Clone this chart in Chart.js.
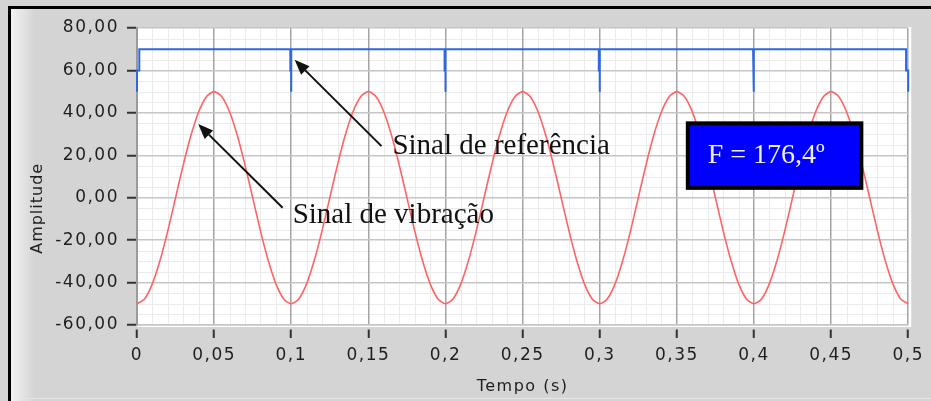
<!DOCTYPE html>
<html>
<head>
<meta charset="utf-8">
<script src="https://cdn.jsdelivr.net/npm/chart.js@4"></script>
<style>
  html, body { margin: 0; padding: 0; background: #d4d4d4; }
  canvas { display: block; }
</style>
</head>
<body>
<canvas id="phase-chart" width="931" height="401"></canvas>
<script>
// valores
const vibTime = [0, 0.005, 0.01, 0.015, 0.02, 0.025, 0.03, 0.035, 0.04, 0.045,
  0.05, 0.055, 0.06, 0.065, 0.07, 0.075, 0.08, 0.085, 0.09, 0.095,
  0.1, 0.105, 0.11, 0.115, 0.12, 0.125, 0.13, 0.135, 0.14, 0.145,
  0.15, 0.155, 0.16, 0.165, 0.17, 0.175, 0.18, 0.185, 0.19, 0.195,
  0.2, 0.205, 0.21, 0.215, 0.22, 0.225, 0.23, 0.235, 0.24, 0.245,
  0.25, 0.255, 0.26, 0.265, 0.27, 0.275, 0.28, 0.285, 0.29, 0.295,
  0.3, 0.305, 0.31, 0.315, 0.32, 0.325, 0.33, 0.335, 0.34, 0.345,
  0.35, 0.355, 0.36, 0.365, 0.37, 0.375, 0.38, 0.385, 0.39, 0.395,
  0.4, 0.405, 0.41, 0.415, 0.42, 0.425, 0.43, 0.435, 0.44, 0.445,
  0.45, 0.455, 0.46, 0.465, 0.47, 0.475, 0.48, 0.485, 0.49, 0.495, 0.5];
const vibAmp = [-50, -47.6, -40.5, -29.4, -15.5, 0, 15.5, 29.4, 40.5, 47.6,
  50, 47.6, 40.5, 29.4, 15.5, 0, -15.5, -29.4, -40.5, -47.6,
  -50, -47.6, -40.5, -29.4, -15.5, 0, 15.5, 29.4, 40.5, 47.6,
  50, 47.6, 40.5, 29.4, 15.5, 0, -15.5, -29.4, -40.5, -47.6,
  -50, -47.6, -40.5, -29.4, -15.5, 0, 15.5, 29.4, 40.5, 47.6,
  50, 47.6, 40.5, 29.4, 15.5, 0, -15.5, -29.4, -40.5, -47.6,
  -50, -47.6, -40.5, -29.4, -15.5, 0, 15.5, 29.4, 40.5, 47.6,
  50, 47.6, 40.5, 29.4, 15.5, 0, -15.5, -29.4, -40.5, -47.6,
  -50, -47.6, -40.5, -29.4, -15.5, 0, 15.5, 29.4, 40.5, 47.6,
  50, 47.6, 40.5, 29.4, 15.5, 0, -15.5, -29.4, -40.5, -47.6, -50];

const refTime = [0, 0, 0.0015, 0.0015,
  0.0994, 0.0994, 0.1, 0.1, 0.1,
  0.1994, 0.1994, 0.2, 0.2, 0.2,
  0.2994, 0.2994, 0.3, 0.3, 0.3,
  0.3994, 0.3994, 0.4, 0.4, 0.4,
  0.4986, 0.4986, 0.5, 0.5];
const refAmp = [50, 60, 60, 70,
  70, 60, 60, 50, 70,
  70, 60, 60, 50, 70,
  70, 60, 60, 50, 70,
  70, 60, 60, 50, 70,
  70, 60, 60, 50];

const xTicks = [0, 0.05, 0.1, 0.15, 0.2, 0.25, 0.3, 0.35, 0.4, 0.45, 0.5];
const yTicks = [-60, -40, -20, 0, 20, 40, 60, 80];

const noteLabels = ["Sinal de referência", "Sinal de vibração"];
const phaseLabel = "F = 176,4º";

// posições das anotações em coordenadas do gráfico
const notes = [
  { text: noteLabels[0], at: [0.1656, 20.5], from: [0.1585, 24.3], to: [0.1022, 65.0] },
  { text: noteLabels[1], at: [0.1009, -11.8], from: [0.0944, -4.75], to: [0.0397, 34.7] },
];
const badge = { text: phaseLabel, x0: 0.3558, x1: 0.4709, y0: 36.0, y1: 3.7, at: [0.37, 16.3] };

const toPoints = (xs, ys) => xs.map((x, i) => ({ x: x, y: ys[i] }));
const fmtComma = (v, d) => v.toFixed(d).replace(".", ",");

const panelPlugin = {
  id: "panel",
  beforeUpdate(chart) {
    chart.ctx.letterSpacing = "1.5px";
  },
  beforeDraw(chart) {
    const ctx = chart.ctx;
    const { left, right, top, bottom } = chart.chartArea;
    const xs = chart.scales.x;
    const ys = chart.scales.y;
    ctx.save();
    ctx.fillStyle = "#d4d4d4";
    ctx.fillRect(0, 0, chart.width, chart.height);
    const grad = ctx.createLinearGradient(11, 0, 34, 0);
    grad.addColorStop(0, "#f2f2f2");
    grad.addColorStop(1, "#d6d6d6");
    ctx.fillStyle = grad;
    ctx.fillRect(11, 9, 23, chart.height);
    ctx.fillStyle = "#000";
    ctx.fillRect(8, 6, chart.width, 3);
    ctx.fillRect(8, 6, 3, chart.height);
    ctx.fillStyle = "#e6e6e6";
    ctx.fillRect(27, 398, chart.width, 1);

    ctx.fillStyle = "#fff";
    ctx.fillRect(left, top - 1, right - left + 3, bottom - top + 3);

    // grade secundária
    ctx.strokeStyle = "#ebebeb";
    ctx.lineWidth = 1;
    ctx.beginPath();
    for (let i = 1; i < 50; i++) {
      if (i % 5 === 0) continue;
      const px = Math.round(xs.getPixelForValue(i / 100)) + 0.5;
      ctx.moveTo(px, top);
      ctx.lineTo(px, bottom);
    }
    for (let v = -55; v < 80; v += 5) {
      if (v % 20 === 0) continue;
      const py = Math.round(ys.getPixelForValue(v)) + 0.5;
      ctx.moveTo(left, py);
      ctx.lineTo(right, py);
    }
    ctx.stroke();
    ctx.restore();
    ctx.letterSpacing = "1.5px";
  },
  afterDraw(chart) {
    const ctx = chart.ctx;
    const xs = chart.scales.x;
    const ys = chart.scales.y;
    const px = (v) => xs.getPixelForValue(v);
    const py = (v) => ys.getPixelForValue(v);
    ctx.save();
    ctx.letterSpacing = "0px";

    notes.forEach((n) => {
      const tx = px(n.from[0]), ty = py(n.from[1]);
      const hx = px(n.to[0]), hy = py(n.to[1]);
      const ang = Math.atan2(hy - ty, hx - tx);
      const headLen = 15, headW = 6;
      const bx = hx - Math.cos(ang) * headLen;
      const by = hy - Math.sin(ang) * headLen;
      ctx.strokeStyle = "#111";
      ctx.lineWidth = 2;
      ctx.beginPath();
      ctx.moveTo(tx, ty);
      ctx.lineTo(bx, by);
      ctx.stroke();
      ctx.fillStyle = "#111";
      ctx.beginPath();
      ctx.moveTo(hx, hy);
      ctx.lineTo(bx + Math.sin(ang) * headW, by - Math.cos(ang) * headW);
      ctx.lineTo(bx - Math.sin(ang) * headW, by + Math.cos(ang) * headW);
      ctx.closePath();
      ctx.fill();

      ctx.font = "29px 'Liberation Serif', serif";
      ctx.textBaseline = "alphabetic";
      ctx.textAlign = "left";
      ctx.fillText(n.text, px(n.at[0]), py(n.at[1]));
    });

    const bx0 = px(badge.x0), bx1 = px(badge.x1);
    const by0 = py(badge.y0), by1 = py(badge.y1);
    ctx.fillStyle = "#000";
    ctx.fillRect(bx0, by0, bx1 - bx0, by1 - by0);
    ctx.fillStyle = "#0000ff";
    ctx.fillRect(bx0 + 4, by0 + 4, bx1 - bx0 - 8, by1 - by0 - 8);
    ctx.fillStyle = "#eef0ff";
    ctx.font = "28px 'Liberation Serif', serif";
    ctx.fillText(badge.text, px(badge.at[0]), py(badge.at[1]));
    ctx.restore();
  },
};

Chart.defaults.font.family = "'DejaVu Sans', sans-serif";
Chart.defaults.font.size = 17;
Chart.defaults.color = "#1f1f1f";

const phaseChart = document.getElementById("phase-chart");
const phaseChartInstance = new Chart(phaseChart, {
  type: "scatter",
  data: {
    datasets: [
      {
        label: "Sinal de referência",
        data: toPoints(refTime, refAmp),
        showLine: true,
        borderColor: "#2d68e2",
        borderWidth: 2,
        pointRadius: 0,
        tension: 0,
        clip: 4,
      },
      {
        label: "Sinal de vibração",
        data: toPoints(vibTime, vibAmp),
        showLine: true,
        borderColor: "#ff6464",
        borderWidth: 1.6,
        pointRadius: 0,
        tension: 0.25,
        clip: 4,
      },
    ],
  },
  options: {
    responsive: false,
    animation: false,
    devicePixelRatio: 1,
    layout: {
      padding: { top: 28, right: 21, bottom: 0, left: 0 },
    },
    plugins: {
      legend: { display: false },
      tooltip: { enabled: false },
    },
    scales: {
      x: {
        type: "linear",
        min: 0,
        max: 0.5,
        afterFit: (s) => { s.height = 76; },
        afterBuildTicks: (s) => { s.ticks = xTicks.map((v) => ({ value: v })); },
        ticks: {
          padding: 7,
          maxRotation: 0,
          autoSkip: false,
          callback: (v) => String(Number(v.toFixed(2))).replace(".", ","),
        },
        grid: {
          color: "#a4a4a4",
          lineWidth: 1.5,
          tickLength: 13,
          tickColor: "#333",
          tickWidth: 2,
          tickBorderDash: [0, 4, 9, 60],
        },
        border: { color: "#c4c4c4", width: 1.5 },
        title: {
          display: true,
          text: "Tempo (s)",
          font: { size: 16 },
          padding: { top: 0, bottom: 5 },
        },
      },
      y: {
        min: -60,
        max: 80,
        afterFit: (s) => { s.width = 137; },
        afterBuildTicks: (s) => { s.ticks = yTicks.map((v) => ({ value: v })); },
        ticks: {
          padding: 4,
          callback: (v) => fmtComma(v, 2),
        },
        grid: {
          color: "#c6c6c6",
          lineWidth: 1.5,
          tickLength: 14,
          tickColor: "#333",
          tickWidth: 2,
          tickBorderDash: [0, 4, 10, 60],
        },
        border: { color: "#9a9a9a", width: 2 },
        title: { display: false },
      },
    },
  },
  plugins: [
    panelPlugin,
    {
      id: "yTitle",
      afterDraw(chart) {
        const ctx = chart.ctx;
        ctx.save();
        ctx.letterSpacing = "1px";
        ctx.translate(38, chart.scales.y.getPixelForValue(-5));
        ctx.rotate(-Math.PI / 2);
        ctx.font = "16px 'DejaVu Sans', sans-serif";
        ctx.fillStyle = "#1f1f1f";
        ctx.textAlign = "center";
        ctx.textBaseline = "middle";
        ctx.fillText("Amplitude", 0, 0);
        ctx.restore();
      },
    },
  ],
});
</script>
</body>
</html>
